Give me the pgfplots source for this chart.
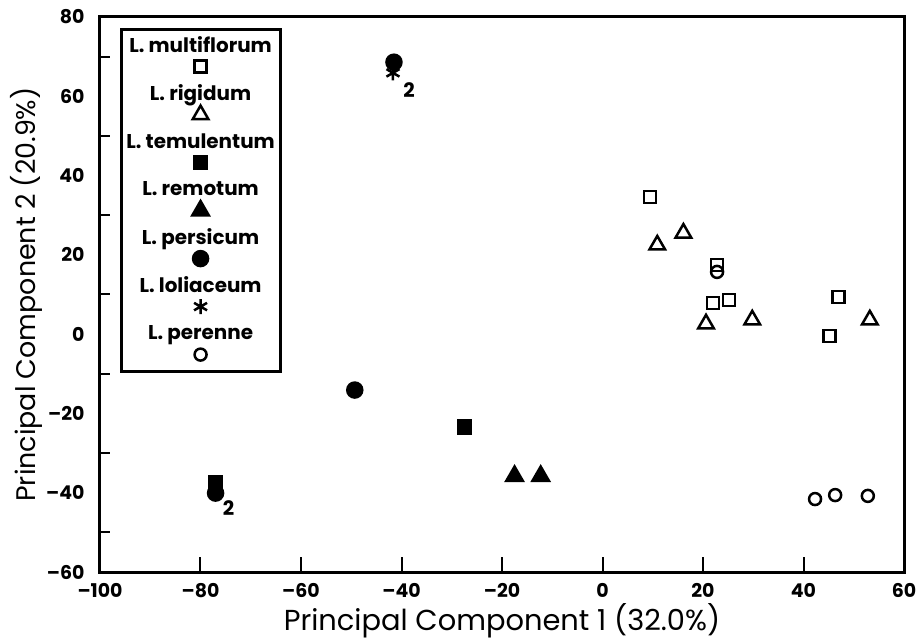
\documentclass[border=0pt]{standalone}
\usepackage{pgfplots}
\pgfplotsset{compat=1.18}
\usepackage{fontspec}
\setmainfont{Poppins}

\newcommand\tickfont{\bfseries\fontsize{19}{19}\selectfont}
\newcommand\legfont{\bfseries\fontsize{20}{20}\selectfont}

% a legend row that only holds a species name, centred over its marker
\newcommand\legtext[1]{%
  \addlegendimage{legend image code/.code={%
      \path[draw=none] (-73bp,-10bp) rectangle (73bp,14bp);
      \node[inner sep=0pt, draw=none, font=\legfont] at (0,1bp) {#1};}}
  \addlegendentry{}}

\pgfplotsset{
  dotlegend/.style={legend image code/.code={%
      \path[draw=none] (-73bp,-14bp) rectangle (73bp,10bp);
      \draw[##1] plot coordinates {(0bp,0bp)};}},
  pts/.style={only marks, dotlegend, mark options={solid, line width=2.5bp}},
}

\begin{document}
\begin{tikzpicture}
\useasboundingbox (-100bp,-68bp) rectangle (819bp,572bp);
\begin{axis}[
  at={(0,0)}, anchor=south west,
  scale only axis, width=804bp, height=555bp,
  xmin=-100, xmax=60, ymin=-60, ymax=80,
  axis line style={line width=3bp},
  tick align=inside, tick pos=left,
  major tick length=15bp,
  tick style={line width=2bp, black},
  xtick={-100,-80,...,60},
  xticklabels={–100,–80,–60,–40,–20,0,20,40,60},
  xticklabel style={font=\tickfont, yshift=-8bp},
  ytick={-60,-40,...,80},
  yticklabels={–60,–40,–20,0,20,40,60,80},
  ytick style={draw=none},
  extra y ticks={-50,-30,...,70},
  extra y tick labels={},
  extra y tick style={major tick length=10bp, ytick style={draw=black}},
  yticklabel style={font=\tickfont, xshift=-12bp},
  xlabel={Principal Component 1 (32.0\%)},
  ylabel={Principal Component 2 (20.9\%)},
  xlabel style={font=\fontsize{29}{29}\selectfont, at={(axis description cs:0.5,0)}, anchor=center, yshift=-49bp},
  ylabel style={font=\fontsize{27}{27}\selectfont, at={(axis description cs:-0.092,0.5)}, anchor=center},
  legend style={at={(0.1257,0.980)}, anchor=north, draw=black, line width=3bp,
    inner xsep=5bp, inner ysep=3bp, row sep=0pt, column sep=0pt,
    nodes={inner sep=0pt}},
]

% L. multiflorum
\legtext{L. multiflorum}
\addplot[pts, mark=square, mark size=6bp] coordinates {
  (9.5,34.6) (22.8,17.4) (22.0,7.9) (25.2,8.6) (47.0,9.4) (45.2,-0.5)
};
\addlegendentry{}

% L. rigidum
\legtext{L. rigidum}
\addplot[pts, mark=triangle, mark size=9bp] coordinates {
  (10.9,22.5) (16.1,25.5) (20.6,2.6) (29.8,3.6) (53.2,3.6)
};
\addlegendentry{}

% L. temulentum
\legtext{L. temulentum}
\addplot[pts, mark=square*, mark size=6.5bp] coordinates {
  (-27.5,-23.4) (-77.0,-37.6)
};
\addlegendentry{}

% L. remotum
\legtext{L. remotum}
\addplot[pts, mark=triangle*, mark size=9.5bp] coordinates {
  (-17.5,-35.8) (-12.3,-35.8)
};
\addlegendentry{}

% L. persicum
\legtext{L. persicum}
\addplot[pts, mark=*, mark size=7.5bp] coordinates {
  (-41.5,68.6) (-49.3,-14.1) (-77.0,-40.1)
};
\addlegendentry{}

% L. loliaceum
\legtext{L. loliaceum}
\addplot[pts, mark=asterisk, mark size=7.5bp] coordinates {
  (-41.7,65.9)
};
\addlegendentry{}

% L. perenne
\legtext{L. perenne}
\addplot[pts, mark=o, mark size=6bp] coordinates {
  (22.8,15.7) (42.3,-41.6) (46.3,-40.6) (52.8,-40.8)
};
\addlegendentry{}

% multiplicity of coincident accessions
\node[font=\bfseries\fontsize{20}{20}\selectfont] at (axis cs:-38.5,61.6) {2};
\node[font=\bfseries\fontsize{20}{20}\selectfont] at (axis cs:-74.4,-43.9) {2};
\end{axis}
\end{tikzpicture}
\end{document}
